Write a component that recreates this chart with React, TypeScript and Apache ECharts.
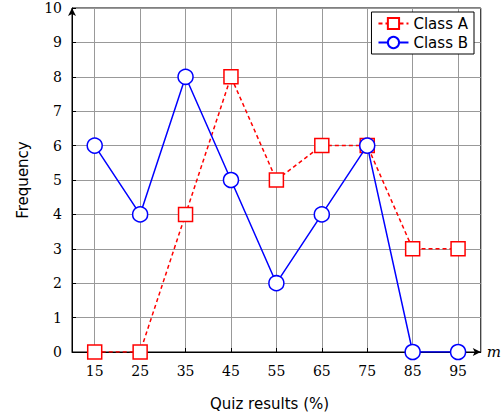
import React, { useEffect, useRef } from "react";
import * as echarts from "echarts";

const quizValues = [15, 25, 35, 45, 55, 65, 75, 85, 95];
const classA = [0, 0, 4, 8, 5, 6, 6, 3, 3];
const classB = [6, 4, 8, 5, 2, 4, 6, 0, 0];

const App: React.FC = () => {
  const chartRef = useRef<HTMLDivElement>(null);

  useEffect(() => {
    document.body.style.margin = "0";
    const chart = echarts.init(chartRef.current, null, { renderer: "svg" });
    const tickFont = { fontFamily: "DejaVu Serif", fontSize: 14, color: "#000" };
    chart.setOption({
      animation: false,
      grid: {
        left: 72,
        right: 23,
        top: 8,
        bottom: 64,
        show: true,
        borderColor: "#000",
        borderWidth: 1,
      },
      legend: {
        orient: "vertical",
        right: 30,
        top: 12,
        backgroundColor: "#fff",
        borderColor: "#000",
        borderWidth: 1,
        padding: [4, 6],
        itemGap: 4,
        itemWidth: 30,
        itemHeight: 14,
        textStyle: { fontFamily: "DejaVu Sans", fontSize: 15, color: "#000" },
        data: ["Class A", "Class B"],
      },
      xAxis: {
        type: "value",
        min: 10,
        max: 100,
        interval: 10,
        name: "m",
        nameGap: 6,
        nameTextStyle: { fontFamily: "DejaVu Serif", fontStyle: "italic", fontSize: 15, color: "#000" },
        axisLine: { show: true, lineStyle: { color: "#000" }, symbol: ["none", "arrow"], symbolSize: [6, 8] },
        axisTick: { show: true, inside: true, length: 4, customValues: quizValues, lineStyle: { color: "#000" } },
        axisLabel: { ...tickFont, margin: 12, customValues: quizValues },
        splitLine: { show: false },
        minorTick: { show: false, splitNumber: 2 },
        minorSplitLine: { show: true, lineStyle: { color: "#999", width: 1 } },
      },
      yAxis: {
        type: "value",
        min: 0,
        max: 10,
        interval: 1,
        name: "Frequency",
        nameLocation: "middle",
        nameGap: 42,
        nameTextStyle: { fontFamily: "DejaVu Sans", fontSize: 15, color: "#000" },
        axisLine: { show: true, lineStyle: { color: "#000" }, symbol: ["none", "arrow"], symbolSize: [6, 8] },
        axisTick: { show: true, inside: true, length: 4, lineStyle: { color: "#000" } },
        axisLabel: { ...tickFont, margin: 10 },
        splitLine: { show: true, lineStyle: { color: "#999", width: 1 } },
      },
      graphic: [
        {
          type: "text",
          left: 210,
          top: 396,
          style: { text: "Quiz results (%)", font: "15px DejaVu Sans", fill: "#000" },
        },
      ],
      series: [
        {
          name: "Class A",
          type: "line",
          data: quizValues.map((q, i) => [q, classA[i]]),
          symbol: "rect",
          symbolSize: 14,
          itemStyle: { color: "#fff", borderColor: "#f00", borderWidth: 1.5 },
          lineStyle: { color: "#f00", width: 1.5, type: [4, 3] },
          z: 3,
        },
        {
          name: "Class B",
          type: "line",
          data: quizValues.map((q, i) => [q, classB[i]]),
          symbol: "circle",
          symbolSize: 15,
          itemStyle: { color: "#fff", borderColor: "#00f", borderWidth: 1.5 },
          lineStyle: { color: "#00f", width: 1.5 },
          z: 4,
        },
      ],
    });
    return () => chart.dispose();
  }, []);

  return <div ref={chartRef} style={{ width: 504, height: 416 }} />;
};

export default App;
